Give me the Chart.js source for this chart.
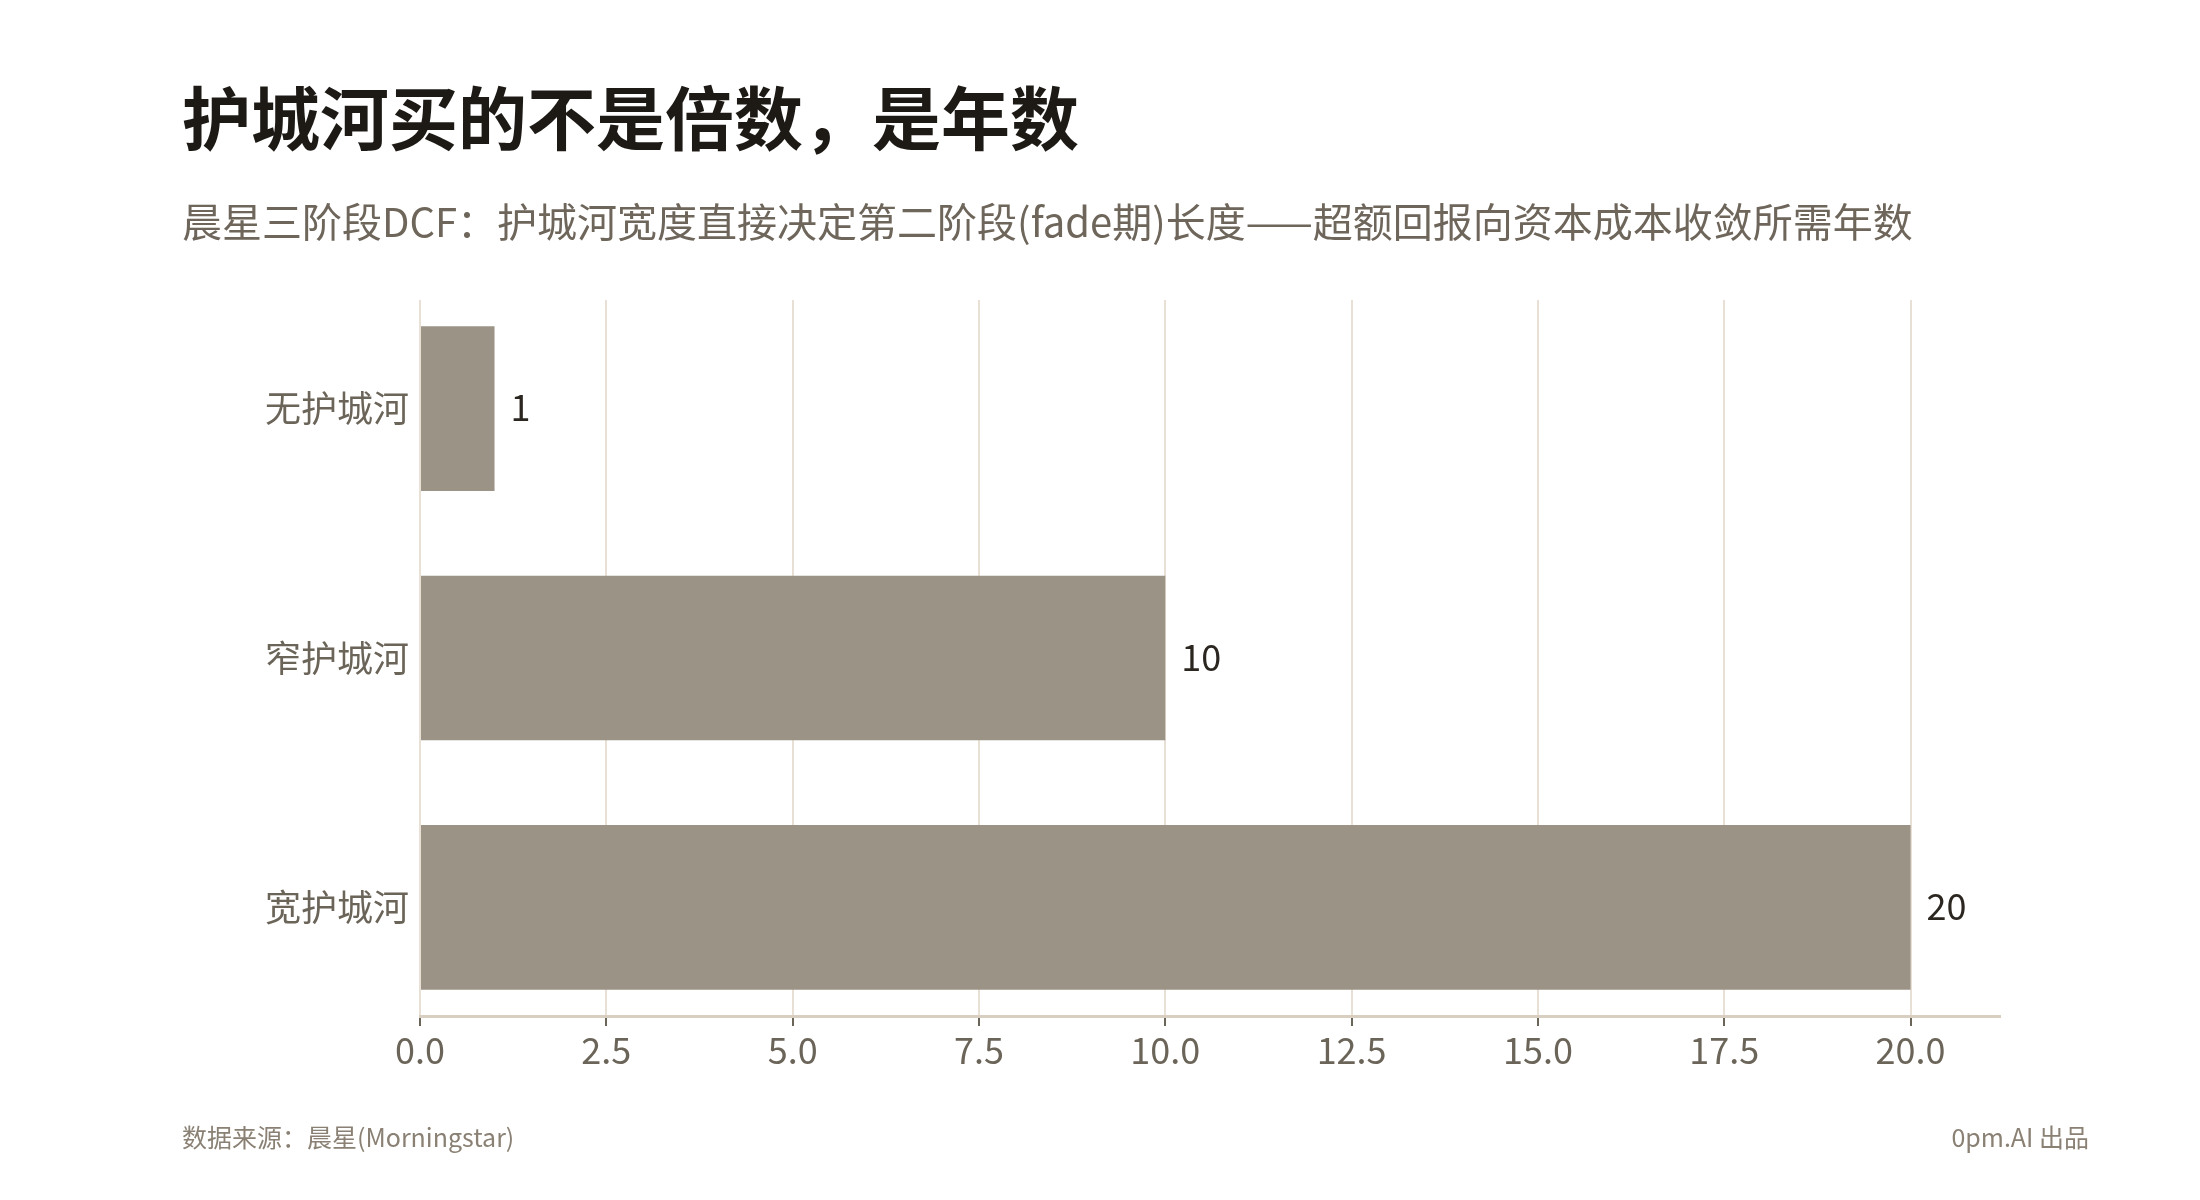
<!DOCTYPE html>
<html>
<head>
<meta charset="utf-8">
<script src="https://cdn.jsdelivr.net/npm/chart.js@4/dist/chart.umd.min.js"></script>
<style>
html,body{margin:0;padding:0;background:#ffffff;}
#wrap{position:relative;width:2200px;height:1200px;overflow:hidden;background:#ffffff;}
#c{position:absolute;left:0;top:0;}
.t{position:absolute;white-space:nowrap;font-family:"Noto Sans CJK SC","Noto Sans",sans-serif;line-height:1;}
#title{left:182px;top:81px;font-size:69px;font-weight:700;color:#1d1a16;}
#subtitle{left:182px;top:200px;font-size:40px;font-weight:400;color:#6e665b;}
#src{left:182px;top:1124px;font-size:25px;color:#8a8174;}
#brand{right:111px;top:1124px;font-size:25px;color:#8a8174;}
</style>
</head>
<body>
<div id="wrap">
  <canvas id="c" width="2200" height="1200"></canvas>
  <div class="t" id="title">护城河买的不是倍数，是年数</div>
  <div class="t" id="subtitle">晨星三阶段DCF：护城河宽度直接决定第二阶段(fade期)长度——超额回报向资本成本收敛所需年数</div>
  <div class="t" id="src">数据来源：晨星(Morningstar)</div>
  <div class="t" id="brand">0pm.AI 出品</div>
</div>
<script>
const categories = ["无护城河", "窄护城河", "宽护城河"];
const fadeYears = [1, 10, 20];
const xTickStep = 2.5;
const xMax = 21.2;

const FONT = '"Noto Sans CJK SC", "Noto Sans", sans-serif';

const valueLabels = {
  id: 'valueLabels',
  afterDatasetsDraw(chart) {
    const ctx = chart.ctx;
    const meta = chart.getDatasetMeta(0);
    ctx.save();
    ctx.font = '36px ' + FONT;
    ctx.fillStyle = '#2b2620';
    ctx.textAlign = 'left';
    ctx.textBaseline = 'middle';
    meta.data.forEach((bar, i) => {
      ctx.fillText(String(fadeYears[i]), bar.x + 16, bar.y - 1);
    });
    ctx.restore();
  }
};

function draw() {
  Chart.defaults.font.family = FONT;
  new Chart(document.getElementById('c'), {
    type: 'bar',
    data: {
      datasets: [{
        data: fadeYears.map((v, i) => ({ x: v, y: i })),
        backgroundColor: '#9b9386',
        borderWidth: 0,
        barPercentage: 0.66,
        categoryPercentage: 1.0
      }]
    },
    options: {
      indexAxis: 'y',
      responsive: false,
      animation: false,
      devicePixelRatio: 1,
      layout: { padding: { left: 0, right: 200, top: 300, bottom: 104 } },
      plugins: { legend: { display: false }, tooltip: { enabled: false }, title: { display: false } },
      scales: {
        x: {
          type: 'linear',
          position: 'bottom',
          min: 0,
          max: xMax,
          ticks: {
            stepSize: xTickStep,
            includeBounds: false,
            color: '#6b6459',
            font: { size: 36 },
            padding: 3,
            callback: v => Number(v).toFixed(1)
          },
          grid: {
            color: '#e8e0d4',
            lineWidth: 2,
            tickColor: '#6b6459',
            tickLength: 10,
            tickWidth: 2,
            drawOnChartArea: true
          },
          border: { color: '#d9cfc0', width: 3 },
          afterFit: s => { s.height = 80; }
        },
        y: {
          type: 'linear',
          reverse: true,
          offset: false,
          min: -0.4357,
          max: 2.4357,
          ticks: {
            stepSize: 1,
            includeBounds: false,
            autoSkip: false,
            color: '#6b6459',
            font: { size: 36 },
            padding: 3,
            callback: v => {
              const r = Math.round(v);
              return Math.abs(v - r) < 1e-6 && categories[r] !== undefined ? categories[r] : '';
            }
          },
          grid: { display: false, offset: false },
          border: { display: false },
          afterFit: s => { s.width = 420; }
        }
      }
    },
    plugins: [valueLabels]
  });
}

if (document.fonts && document.fonts.load) {
  Promise.all([
    document.fonts.load('36px "Noto Sans CJK SC"'),
    document.fonts.load('bold 69px "Noto Sans CJK SC"')
  ]).then(draw, draw);
} else {
  draw();
}
</script>
</body>
</html>
